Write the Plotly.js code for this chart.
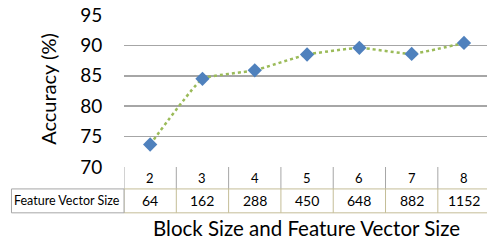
<!DOCTYPE html>
<html>
<head>
<meta charset="utf-8">
<script src="https://cdn.plot.ly/plotly-3.0.1.min.js"></script>
<style>html,body{margin:0;padding:0;background:#fff;overflow:hidden}</style>
</head>
<body>
<div id="chart" style="width:487px;height:241px"></div>
<script>
const blockSizes = ['2', '3', '4', '5', '6', '7', '8'];
const featureSizes = ['64', '162', '288', '450', '648', '882', '1152'];
const accuracy = [73.7, 84.5, 85.9, 88.5, 89.6, 88.6, 90.4];
const yTicks = [70, 75, 80, 85, 90, 95];
const rowLabel = 'Feature Vector Size';
const yTitle = 'Accuracy (%)';
const xTitle = 'Block Size and Feature Vector Size';

const FONT = 'Lato, "Open Sans", sans-serif';
const GRAY = '#A6A6A6';
const TAN = '#C4BD97';
const rowMid = -0.1443, rowBot = -0.3016;

const shapes = [];
const annotations = [];
for (let i = 0; i <= blockSizes.length; i++) {
  shapes.push({type: 'line', xref: 'x', yref: 'paper', x0: i - 0.5, x1: i - 0.5, y0: 0, y1: rowMid,
    line: {color: GRAY, width: 1}});
  shapes.push({type: 'line', xref: 'x', yref: 'paper', x0: i - 0.5, x1: i - 0.5, y0: rowMid, y1: rowBot,
    line: {color: TAN, width: 1}});
}
shapes.push({type: 'line', xref: 'x', yref: 'paper', x0: -0.5, x1: blockSizes.length - 0.5, y0: rowMid, y1: rowMid,
  line: {color: TAN, width: 1}});
shapes.push({type: 'line', xref: 'x', yref: 'paper', x0: -0.5, x1: blockSizes.length - 0.5, y0: rowBot, y1: rowBot,
  line: {color: TAN, width: 1}});
// row label cell
shapes.push({type: 'rect', xref: 'paper', yref: 'paper', x0: -0.310, x1: 0, y0: rowMid, y1: rowBot,
  line: {color: GRAY, width: 1}, fillcolor: 'rgba(0,0,0,0)'});

blockSizes.forEach((b, i) => {
  annotations.push({xref: 'x', yref: 'paper', x: i, y: rowMid / 2, text: b, showarrow: false,
    font: {family: FONT, size: 13, color: '#000'}, xanchor: 'center', yanchor: 'middle'});
  annotations.push({xref: 'x', yref: 'paper', x: i, y: (rowMid + rowBot) / 2, text: featureSizes[i], showarrow: false,
    font: {family: FONT, size: 14, color: '#000'}, xanchor: 'center', yanchor: 'middle'});
});
annotations.push({xref: 'paper', yref: 'paper', x: -0.157, y: (rowMid + rowBot) / 2, text: rowLabel, showarrow: false,
  font: {family: FONT, size: 12.5, color: '#000'}, xanchor: 'center', yanchor: 'middle'});
annotations.push({xref: 'paper', yref: 'paper', x: -0.209, y: 0.515, text: yTitle, showarrow: false, textangle: -90,
  font: {family: FONT, size: 20, color: '#000'}, xanchor: 'center', yanchor: 'middle'});
annotations.push({xref: 'paper', yref: 'paper', x: 0.503, y: -0.40, text: xTitle, showarrow: false,
  font: {family: FONT, size: 20.5, color: '#000'}, xanchor: 'center', yanchor: 'middle'});

const trace = {
  type: 'scatter', mode: 'lines+markers', x: blockSizes, y: accuracy,
  line: {color: '#9BBB59', width: 2.5, dash: 'dot', shape: 'spline', smoothing: 0.35},
  marker: {symbol: 'diamond', size: 11, color: '#4F81BD'},
  hoverinfo: 'skip'
};

const layout = {
  width: 487, height: 241,
  margin: {l: 124, r: 0, t: 14.5, b: 74, pad: 0},
  paper_bgcolor: '#fff', plot_bgcolor: '#fff',
  showlegend: false,
  xaxis: {type: 'category', range: [-0.5, 6.44], showticklabels: false, showgrid: false, zeroline: false,
    showline: false, ticks: ''},
  yaxis: {range: [70, 95], tickvals: yTicks, ticktext: yTicks.map(String), showgrid: true, gridcolor: GRAY,
    gridwidth: 1.5, zeroline: false, showline: false, ticks: 'outside', ticklen: 17, tickcolor: 'rgba(0,0,0,0)',
    tickfont: {family: FONT, size: 19, color: '#000'}},
  shapes: shapes,
  annotations: annotations
};

Plotly.newPlot('chart', [trace], layout, {displayModeBar: false, staticPlot: true});
</script>
</body>
</html>
